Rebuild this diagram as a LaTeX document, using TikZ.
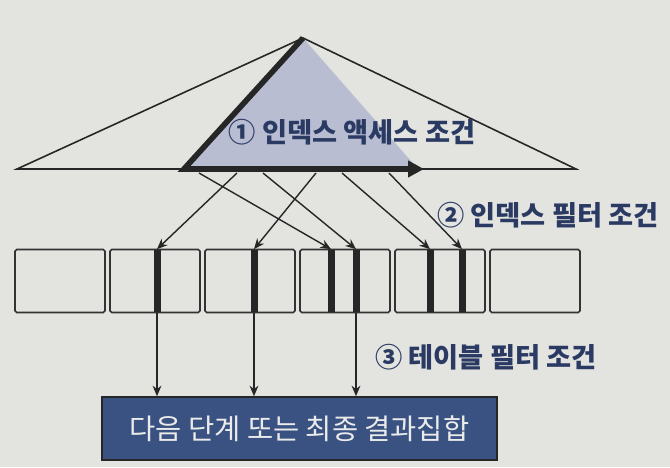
\documentclass[tikz,border=0pt]{standalone}
\usepackage{fontspec}
\newfontfamily\kor{Noto Sans CJK KR}
\usepackage{xcolor}
\definecolor{navy}{HTML}{2B3A63}
\definecolor{idxshade}{HTML}{B8BDD2}
\definecolor{resultblue}{HTML}{3A5282}
\definecolor{paper}{HTML}{E3E3DF}
\usetikzlibrary{arrows.meta,positioning}

\begin{document}
\begin{tikzpicture}[
  x=0.02cm, y=-0.02cm,
  page/.style={draw=black!80,line width=0.9pt,rounded corners=1pt,minimum width=1.8cm,minimum height=1.26cm,inner sep=0pt},
  bar/.style={fill=black!85,minimum width=0.14cm,minimum height=1.26cm,inner sep=0pt},
  arrow/.style={-{Stealth[length=6pt,width=5pt]},line width=0.8pt,draw=black!85},
  cond/.style={font=\kor\bfseries\fontsize{15.5}{17}\selectfont,text=navy,inner sep=0pt},
  result/.style={draw=black!85,fill=resultblue,line width=0.9pt,minimum width=7.9cm,minimum height=1.26cm,
    font=\kor\fontsize{16.2}{18}\selectfont,text=white!92!black},
]
  \fill[paper] (0,0) rectangle (670,467);
  \useasboundingbox (0,0) rectangle (670,467);

  % Index tree
  \coordinate (top) at (303,38);
  \coordinate (lft) at (17,169);
  \coordinate (rgt) at (576,169);
  \coordinate (scanA) at (184,169);
  \coordinate (scanB) at (418,169);
  \coordinate (scanEnd) at (424,169);
  \fill[idxshade] (top) -- (scanA) -- (scanB) -- cycle;
  \draw[line width=0.9pt,black!85] (top) -- (lft) -- (rgt) -- cycle;
  \draw[line width=3.2pt,black!85,-{Triangle[length=9pt,width=9pt]}] (top) -- (scanA) -- (scanEnd);
  \node[cond] (access) at (352,132) {① 인덱스 액세스 조건};

  % Data pages
  \foreach \i/\cx in {1/60,2/155,3/250,4/345,5/440,6/535}
    \node[page] (p\i) at (\cx,281) {};
  \foreach \i/\bx in {1/157,2/254,3/331,4/356,5/430,6/462}
    \node[bar] (b\i) at (\bx,281) {};

  % Index entries -> rows
  \foreach \i/\sx in {1/237,2/199,3/316,4/263,5/342,6/389}
    \coordinate (s\i) at (\sx,173);
  \draw[arrow] (s1) -- (b1.north);
  \draw[arrow] (s2) -- (b3.north);
  \draw[arrow] (s3) -- (b2.north);
  \draw[arrow] (s4) -- (b4.north);
  \draw[arrow] (s5) -- (b5.north);
  \draw[arrow] (s6) -- (b6.north);
  \node[cond,anchor=west] (ifilter) at (437,215) {② 인덱스 필터 조건};

  % Result
  \node[result] (res) at (299.5,428.5) {다음 단계 또는 최종 결과집합};
  \draw[arrow] (b1.south) -- (b1.south |- res.north);
  \draw[arrow] (b2.south) -- (b2.south |- res.north);
  \draw[arrow] (b4.south) -- (b4.south |- res.north);
  \node[cond,anchor=west] (tfilter) at (375,357) {③ 테이블 필터 조건};
\end{tikzpicture}
\end{document}
